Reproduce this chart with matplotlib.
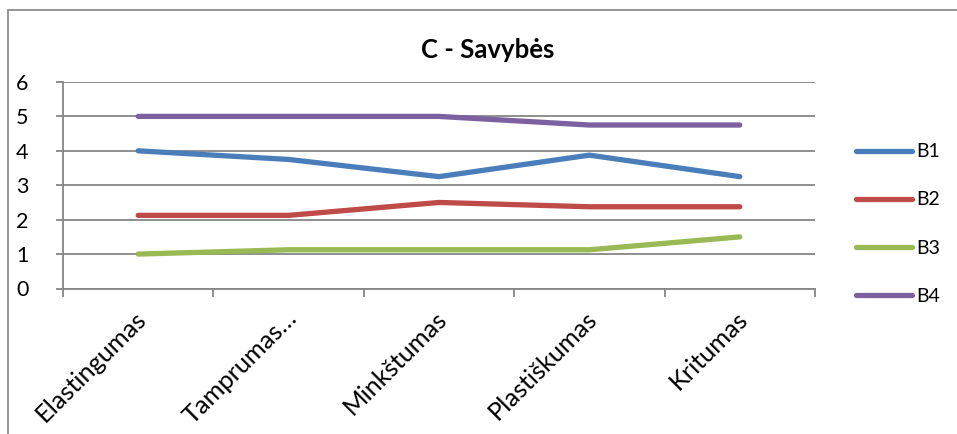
import matplotlib
matplotlib.use("Agg")
import matplotlib.pyplot as plt
import matplotlib.transforms as mtransforms
from matplotlib.patches import Rectangle
from matplotlib.lines import Line2D

categories = ["Elastingumas", "Tamprumas…", "Minkštumas", "Plastiškumas", "Kritumas"]
series_names = ["B1", "B2", "B3", "B4"]
b1 = [4.0, 3.75, 3.25, 3.875, 3.25]
b2 = [2.125, 2.125, 2.5, 2.375, 2.375]
b3 = [1.0, 1.125, 1.125, 1.125, 1.5]
b4 = [5.0, 5.0, 5.0, 4.75, 4.75]
title = "C - Savybės"
yticks = [0, 1, 2, 3, 4, 5, 6]

colors = ["#4A7EBB", "#BE4B48", "#98B954", "#7D60A0"]
grid_color = "#868686"

plt.rcParams['font.family'] = ['Lato', 'DejaVu Sans']

W, H = 957, 434
fig = plt.figure(figsize=(W / 100, H / 100), dpi=100)

# outer chart border
fig.add_artist(Rectangle((8 / W, -0.1), 1.2, (H - 10) / H + 0.1, transform=fig.transFigure,
                         fill=False, edgecolor="#8c8c8c", linewidth=1.3))

left, right = 63 / W, 815 / W
bottom, top = (H - 288.5) / H, (H - 82) / H
ax = fig.add_axes([left, bottom, right - left, top - bottom])

x = list(range(len(categories)))
for vals, c, name in zip([b1, b2, b3, b4], colors, series_names):
    ax.plot(x, vals, color=c, linewidth=3.8, solid_capstyle='round', solid_joinstyle='round',
            label=name, zorder=3)

ax.set_xlim(-0.5, len(categories) - 0.5)
ax.set_ylim(0, 6)
ax.set_yticks(yticks)
ax.set_yticklabels([str(v) for v in yticks], fontsize=15.5)
ax.yaxis.grid(True, color=grid_color, linewidth=1.3)
ax.set_axisbelow(True)
for s in ["top", "right"]:
    ax.spines[s].set_visible(False)
for s in ["left", "bottom"]:
    ax.spines[s].set_color(grid_color)
    ax.spines[s].set_linewidth(1.3)
ax.tick_params(axis='y', length=5, width=1.3, color=grid_color, pad=20)

# x ticks at category boundaries (major), labels at centers (minor)
ax.set_xticks([i - 0.5 for i in range(len(categories) + 1)])
ax.set_xticklabels([])
ax.tick_params(axis='x', which='major', length=6, width=1.3, color=grid_color)
ax.set_xticks(x, minor=True)
ax.set_xticklabels(categories, minor=True, rotation=45, ha='right', va='top',
                   rotation_mode='anchor', fontsize=18.3)
ax.tick_params(axis='x', which='minor', length=0, pad=13)
offset = mtransforms.ScaledTranslation(-4 / 100, 0, fig.dpi_scale_trans)
for lbl in ax.get_xticklabels(minor=True):
    lbl.set_transform(lbl.get_transform() + offset)

fig.text(488 / W, 1 - 50 / H, title, ha='center', va='center', fontsize=18.5, fontweight='bold')

handles = [Line2D([0], [0], color=c, linewidth=3.8, solid_capstyle='round') for c in colors]
leg = fig.legend(handles, series_names, loc='center left', bbox_to_anchor=(838 / W, 1 - 224 / H),
                 frameon=False, fontsize=14, handlelength=2.9, handletextpad=0.2,
                 labelspacing=1.6)

fig.savefig("out.png", dpi=100, facecolor="white")
